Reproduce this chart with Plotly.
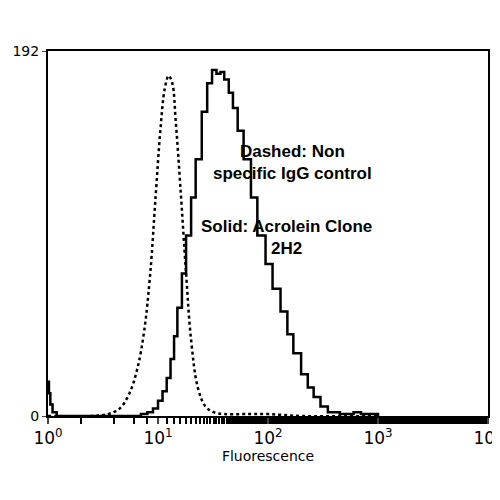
import plotly.graph_objects as go

# dotted: non-specific IgG control
ctrl_x = [1.0, 2.5, 3.5, 4.5, 5.5, 6.5, 7.5, 8.5, 9.5, 10.5, 11.5, 12.5, 13.5, 14.5, 16, 18, 20, 23, 27, 32, 40, 60, 100, 200, 1000]
ctrl_y = [0, 0, 1, 4, 12, 25, 45, 75, 115, 150, 172, 179, 175, 155, 120, 75, 40, 15, 5, 2, 1, 1, 1, 0, 0]

# solid: Acrolein clone 2H2
ab_x = [1.0, 1.02, 1.05, 1.1, 1.2, 3, 6, 7, 8, 9, 10, 11, 12, 13, 14, 15, 16.5, 18, 20, 22, 25, 28, 31, 34, 37, 40, 44, 48, 53, 60, 70, 80, 95, 110, 130, 150, 170, 200, 230, 260, 300, 350, 450, 600, 700, 900, 1000]
ab_y = [18, 12, 6, 2, 0, 0, 0, 1, 2, 4, 8, 13, 20, 30, 42, 57, 75, 95, 115, 135, 160, 175, 182, 180, 181, 177, 170, 162, 150, 135, 115, 95, 80, 67, 55, 43, 33, 22, 15, 10, 5, 2, 1, 2, 1, 1, 0]

fig = go.Figure()
fig.add_trace(go.Scatter(x=ctrl_x, y=ctrl_y, mode="lines", line=dict(color="black", width=2.5, dash="dot", shape="spline")))
fig.add_trace(go.Scatter(x=ab_x, y=ab_y, mode="lines", line=dict(color="black", width=2.5, shape="hv")))

fig.update_layout(
    width=500, height=500, plot_bgcolor="white", paper_bgcolor="white", showlegend=False,
    margin=dict(l=40, r=20, t=43, b=92),
    font=dict(family="DejaVu Sans", color="black", size=14),
    xaxis=dict(type="log", range=[0, 4], showgrid=False, zeroline=False, showline=True, mirror=True,
               linecolor="black", linewidth=2, ticks="outside", ticklen=6, tickwidth=1.5, automargin=False,
               tickvals=[1, 10, 100, 1000, 10000], tickfont=dict(size=17),
               ticktext=["10<sup>0</sup>", "10<sup>1</sup>", "10<sup>2</sup>", "10<sup>3</sup>", "10<sup>4</sup>"],
               minor=dict(ticks="outside", ticklen=6, tickwidth=1.5, tickcolor="black", showgrid=False),
               title=dict(text="Fluorescence", font=dict(size=14), standoff=0)),
    yaxis=dict(range=[0, 192], showgrid=False, zeroline=False, showline=True, mirror=True, automargin=False,
               linecolor="black", linewidth=2, ticks="outside", ticklen=4, tickfont=dict(size=14),
               tickvals=[0, 192], ticktext=["0", "192"]),
)
fig.add_annotation(x=0.74, y=0.755, xref="paper", yref="paper", showarrow=False,
                   text="<b>Dashed: Non<br>specific IgG control</b>", font=dict(size=17, family="Liberation Sans"))
fig.add_annotation(x=0.74, y=0.49, xref="paper", yref="paper", showarrow=False,
                   text="<b>Solid: Acrolein Clone<br>2H2</b>", font=dict(size=17, family="Liberation Sans"))
fig.write_html("out.html")
